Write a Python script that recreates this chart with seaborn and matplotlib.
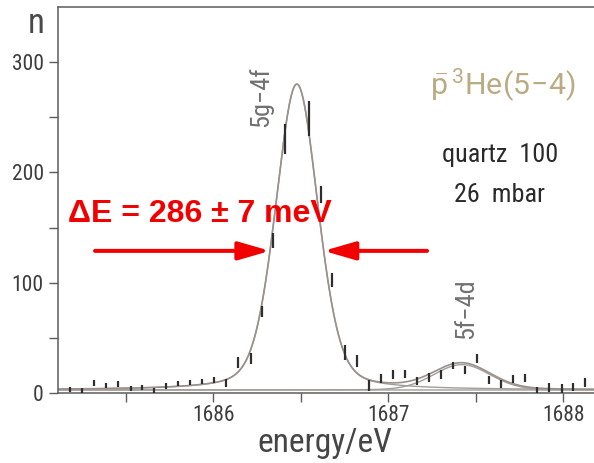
import numpy as np
import matplotlib
matplotlib.use("Agg")
import matplotlib.pyplot as plt
import seaborn as sns

# Measured spectrum: channel energy (eV), counts and statistical error
energy_eV = [1685.181, 1685.251, 1685.320, 1685.389, 1685.457, 1685.528, 1685.594,
             1685.663, 1685.731, 1685.800, 1685.869, 1685.937, 1686.006, 1686.074,
             1686.143, 1686.214, 1686.280, 1686.339, 1686.410, 1686.549, 1686.614,
             1686.680, 1686.753, 1686.819, 1686.890, 1686.957, 1687.029, 1687.095,
             1687.162, 1687.233, 1687.301, 1687.371, 1687.440, 1687.509, 1687.577,
             1687.646, 1687.714, 1687.783, 1687.851, 1687.920, 1687.991, 1688.057,
             1688.126]
counts = [3.4, 2.7, 9.4, 7.0, 8.2, 4.5, 5.2, 2.7, 6.6, 8.8, 9.7, 10.6, 11.8, 9.4,
          27.9, 31.5, 73.9, 138.5, 230.0, 248.8, 180.0, 102.5, 37.0, 29.4, 7.0,
          13.4, 17.3, 17.5, 11.2, 14.5, 17.0, 25.2, 20.9, 31.2, 11.8, 8.2, 12.7,
          13.9, 2.7, 5.2, 3.9, 5.7, 9.7]
count_err = [2.4, 2.4, 2.5, 2.5, 2.5, 2.4, 2.4, 2.4, 2.5, 2.5, 2.5, 2.5, 2.7, 3.9,
             5.3, 5.1, 5.1, 6.8, 13.6, 15.8, 8.0, 6.3, 6.8, 5.3, 4.8, 4.5, 4.0,
             4.0, 3.8, 4.0, 4.0, 3.5, 3.8, 4.2, 3.6, 3.8, 3.8, 4.0, 2.7, 3.8, 4.2,
             3.9, 3.8]

# Fit parameters (pseudo-Voigt lines on a flat background)
background = 3.0
line_names = ["5g\u22124f", "5f\u22124d"]
line_center_eV = [1686.477, 1687.420]
line_amplitude = [277.0, 23.0]
line_fwhm_eV = [0.286, 0.380]
line_lorentz_frac = [0.28, 0.10]

x_ticks = [1686, 1687, 1688]
y_ticks = [0, 100, 200, 300]

FAMILY = ["Roboto Condensed", "Liberation Sans Narrow", "Roboto", "DejaVu Sans"]


def pseudo_voigt(e, amp, e0, fwhm, eta):
    sigma = fwhm / 2.3548
    gamma = fwhm / 2.0
    g = np.exp(-0.5 * ((e - e0) / sigma) ** 2)
    lor = 1.0 / (1.0 + ((e - e0) / gamma) ** 2)
    return amp * ((1 - eta) * g + eta * lor)


sns.set_theme(style="ticks")
plt.rcParams["font.family"] = FAMILY
plt.rcParams["font.stretch"] = "condensed"
plt.rcParams["mathtext.fontset"] = "custom"
plt.rcParams["mathtext.rm"] = "Roboto"
plt.rcParams["mathtext.it"] = "Roboto"

W, H = 594, 463
fig = plt.figure(figsize=(W / 100, H / 100), dpi=100)
fig.patch.set_facecolor("white")


def fx(px):
    return px / W


def fy(py):
    return 1 - py / H


ax = fig.add_axes([fx(58.3), fy(393.3), 1 - fx(58.3), fy(7.3) - fy(393.3)])
ax.set_facecolor("white")

xmin, xmax = 1685.114, 1688.175
ymin, ymax = 0, 349.6

# fitted curves
grid = np.linspace(xmin, xmax, 1200)
main = pseudo_voigt(grid, line_amplitude[0], line_center_eV[0], line_fwhm_eV[0], line_lorentz_frac[0])
side = pseudo_voigt(grid, line_amplitude[1], line_center_eV[1], line_fwhm_eV[1], line_lorentz_frac[1])
total = main + side + background
curve_col = "#a39c97"
sns.lineplot(x=grid, y=np.full_like(grid, background), ax=ax, color=curve_col, lw=1.0)
sns.lineplot(x=grid, y=main + background, ax=ax, color=curve_col, lw=1.0)
sns.lineplot(x=grid, y=side + background, ax=ax, color=curve_col, lw=1.0)
sns.lineplot(x=grid, y=total, ax=ax, color="#9a918c", lw=1.2)

# data points as bare error bars
ax.errorbar(energy_eV, counts, yerr=count_err, fmt="none", ecolor="#2e2e2e",
            elinewidth=1.6, capsize=0, zorder=5)

ax.set_xlim(xmin, xmax)
ax.set_ylim(ymin, ymax)
ax.set_xticks(x_ticks)
ax.set_xticks([1685.5, 1686.5, 1687.5], minor=True)
ax.set_yticks(y_ticks)
ax.set_yticks([50, 150, 250], minor=True)
ax.set_xticklabels([str(t) for t in x_ticks])
ax.set_yticklabels([str(t) for t in y_ticks])
for side_name in ["left", "top", "bottom"]:
    ax.spines[side_name].set_color("#5c5c5c")
    ax.spines[side_name].set_linewidth(1.1)
ax.spines["right"].set_visible(False)
ax.tick_params(which="both", direction="out", length=6.5, width=1.0, color="#5c5c5c",
               labelcolor="#3c3c3c", labelsize=15.5)
ax.tick_params(axis="y", pad=4)
ax.tick_params(axis="x", pad=2)
ax.set_xlabel("")
ax.set_ylabel("")

fig.text(fx(36.5), fy(33), "n", ha="center", va="baseline", fontsize=25, color="#4a4a4a")
fig.text(fx(325), fy(452), "energy/eV", ha="center", va="baseline", fontsize=24, color="#454545")

# line labels
ax.text(1686.273, 269, line_names[0], rotation=90, ha="center", va="center",
        fontsize=19, color="#707070")
ax.text(1687.444, 76.4, line_names[1], rotation=90, ha="center", va="center",
        fontsize=19, color="#707070")

fig.text(fx(430), fy(95), r"$\bar{\mathrm{p}}\,{}^{3}\mathrm{He}(5\!-\!4)$", ha="left",
         va="baseline", fontsize=21.8, color="#b9ab82")
fig.text(fx(500), fy(162), "quartz  100", ha="center", va="baseline", fontsize=18.8,
         color="#2a2a2a")
fig.text(fx(499), fy(201.5), "26  mbar", ha="center", va="baseline", fontsize=18.8,
         color="#2a2a2a")

# width annotation
red = "#f20000"
fig.text(fx(68), fy(222), "\u0394E = 286 \u00b1 7 meV", ha="left", va="baseline",
         fontsize=23, fontweight="bold", fontstretch="normal", color=red,
         family=["Liberation Sans", "DejaVu Sans"])

arrow_level = 129.0
peak_idx = int(np.argmax(main))
left_tip = np.interp(arrow_level, total[:peak_idx], grid[:peak_idx])
right_tip = np.interp(arrow_level, total[peak_idx:][::-1], grid[peak_idx:][::-1])
arrow_kw = dict(arrowstyle="-|>,head_length=1.9,head_width=0.55", mutation_scale=10,
                color=red, lw=2.9, shrinkA=0, shrinkB=0)
ax.annotate("", xy=(left_tip, arrow_level), xytext=(1685.324, arrow_level), arrowprops=arrow_kw)
ax.annotate("", xy=(right_tip, arrow_level), xytext=(1687.221, arrow_level), arrowprops=arrow_kw)

fig.savefig("out.png", dpi=100)
